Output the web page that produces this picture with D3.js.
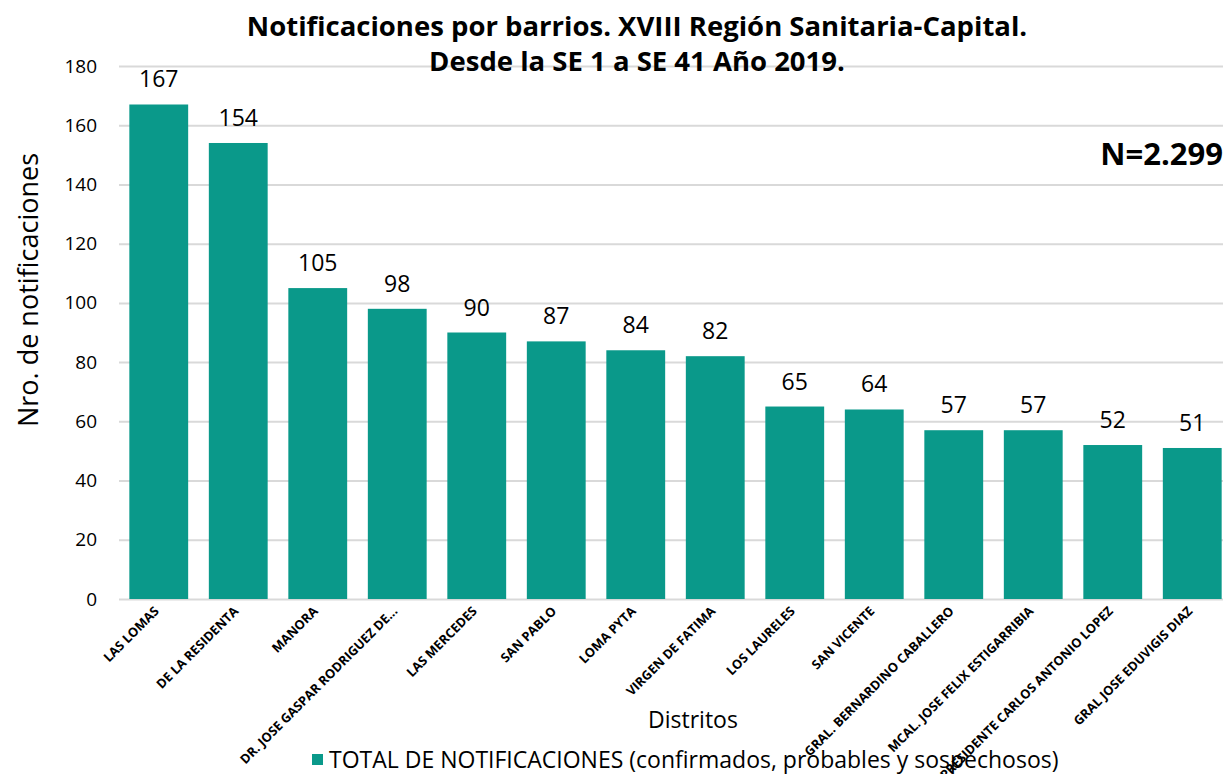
<!DOCTYPE html>
<html>
<head>
<meta charset="utf-8">
<script src="https://cdn.jsdelivr.net/npm/d3@7"></script>
<style>
  body { margin: 0; background: #fff; }
  text { font-family: 'Open Sans', 'Noto Sans', sans-serif; }
</style>
</head>
<body>
<script>
var categories = ['LAS LOMAS', 'DE LA RESIDENTA', 'MANORA', 'DR. JOSE GASPAR RODRIGUEZ DE...',
  'LAS MERCEDES', 'SAN PABLO', 'LOMA PYTA', 'VIRGEN DE FATIMA', 'LOS LAURELES', 'SAN VICENTE',
  'GRAL. BERNARDINO CABALLERO', 'MCAL. JOSE FELIX ESTIGARRIBIA', 'PRESIDENTE CARLOS ANTONIO LOPEZ',
  'GRAL JOSE EDUVIGIS DIAZ'];
var values = [167, 154, 105, 98, 90, 87, 84, 82, 65, 64, 57, 57, 52, 51];
var yTicks = [0, 20, 40, 60, 80, 100, 120, 140, 160, 180];
var seriesName = 'TOTAL DE NOTIFICACIONES (confirmados, probables y sospechosos)';

var width = 1223, height = 774;
var colour = '#0A998A';

var svg = d3.select(document.body).append('svg').attr('width', width).attr('height', height);

var x = d3.scaleBand().domain(categories).range([119, 1232]).paddingInner(0.26).paddingOuter(0.13),
  y = d3.scaleLinear().domain([0, 180]).range([599, 66]);

// grid + y axis
svg.append('g')
  .attr('transform', 'translate(119,0)')
  .call(d3.axisLeft(y).tickValues(yTicks).tickSize(-1110).tickPadding(22))
  .call(function (g) {
    g.select('.domain').remove();
    g.selectAll('.tick line').attr('stroke', '#d9d9d9').attr('stroke-width', 2);
    g.selectAll('.tick text').attr('font-size', 19).attr('fill', '#000')
      .style('font-family', "'Open Sans', sans-serif");
  });

// bars
svg.selectAll('.bar')
  .data(values)
  .enter().append('rect')
  .attr('x', function (d, i) { return x(categories[i]); })
  .attr('y', function (d) { return y(d); })
  .attr('width', x.bandwidth())
  .attr('height', function (d) { return y(0) - y(d); })
  .attr('fill', colour);

// value labels
svg.selectAll('.val')
  .data(values)
  .enter().append('text')
  .attr('x', function (d, i) { return x(categories[i]) + x.bandwidth() / 2; })
  .attr('y', function (d) { return y(d) - 17; })
  .attr('text-anchor', 'middle')
  .attr('font-size', 23)
  .text(function (d) { return d; });

// category labels
svg.selectAll('.cat')
  .data(categories)
  .enter().append('text')
  .attr('transform', function (d) {
    return 'translate(' + (x(d) + x.bandwidth() / 2 + 1) + ',612) rotate(-45)';
  })
  .attr('text-anchor', 'end')
  .attr('font-size', 12.8)
  .attr('font-weight', 'bold')
  .text(function (d) { return d; });

// title
var title = svg.append('text').attr('text-anchor', 'middle')
  .attr('font-size', 27.5).attr('font-weight', 'bold');
title.append('tspan').attr('x', 637).attr('y', 36).text('Notificaciones por barrios. XVIII Región Sanitaria-Capital.');
title.append('tspan').attr('x', 637).attr('y', 71).text('Desde la SE 1 a SE 41 Año 2019.');

// N
svg.append('text').attr('x', 1223).attr('y', 165).attr('text-anchor', 'end')
  .attr('font-size', 31).attr('font-weight', 'bold').text('N=2.299');

// axis titles
svg.append('text').attr('transform', 'translate(38,290) rotate(-90)').attr('text-anchor', 'middle')
  .attr('font-size', 27).text('Nro. de notificaciones');
svg.append('text').attr('x', 693).attr('y', 728).attr('text-anchor', 'middle')
  .attr('font-size', 23).text('Distritos');

// legend
svg.append('rect').attr('x', 312).attr('y', 754).attr('width', 11).attr('height', 11).attr('fill', colour);
svg.append('text').attr('x', 329).attr('y', 768).attr('font-size', 23).text(seriesName);
</script>
</body>
</html>
